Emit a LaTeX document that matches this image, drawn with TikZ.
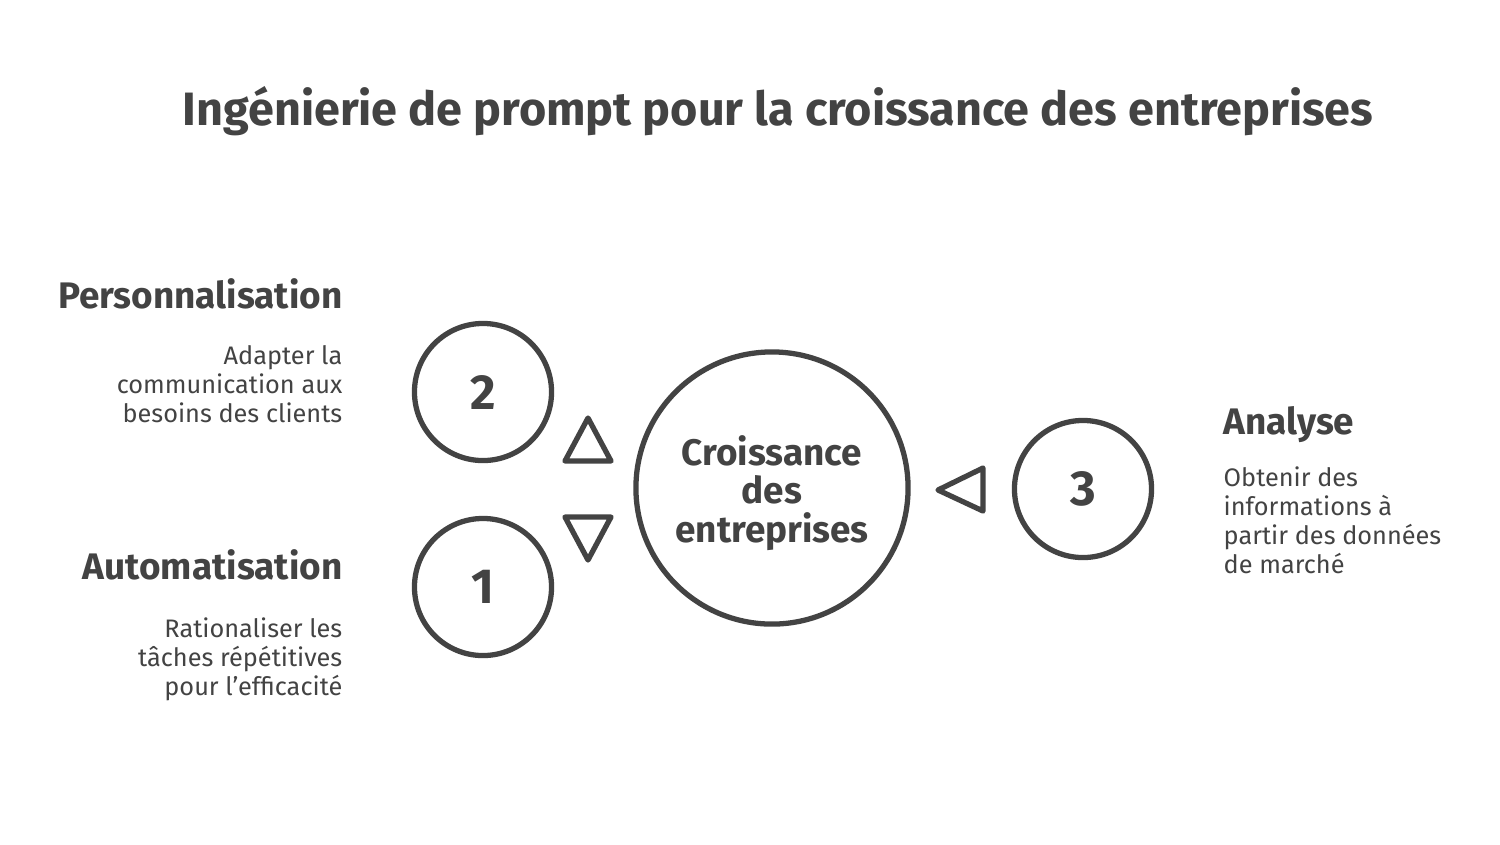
\documentclass[tikz,border=0pt]{standalone}
\usepackage{fontspec}
\setmainfont{Fira Sans}
\definecolor{ink}{HTML}{434343}
\tikzset{
  ring/.style={circle,draw=ink,line width=1.5pt,inner sep=0pt},
  arrowhead/.style={draw=ink,line width=1.5pt,line join=round},
  headline/.style={text=ink,font=\fontsize{10.5}{12}\selectfont\bfseries,inner sep=0pt},
  blurb/.style={text=ink,font=\fontsize{7.2}{8.25}\selectfont,inner sep=0pt}
}
\begin{document}
\begin{tikzpicture}[x=0.01cm,y=-0.01cm]
      \useasboundingbox[fill=white] (0,0) rectangle (1500,844);
      \node[text=ink,font=\fontsize{13.3}{15}\selectfont\bfseries] (title) at (778,111)
        {Ingénierie de prompt pour la croissance des entreprises};
      \draw
        (772,488) node[ring,minimum size=2.72cm] (hub){}
        (483,392) node[ring,minimum size=1.37cm,text=ink,font=\fontsize{14}{15}\selectfont\bfseries] (2){2}
        (483,587) node[ring,minimum size=1.37cm,text=ink,font=\fontsize{14}{15}\selectfont\bfseries] (1){1}
        (1083,489) node[ring,minimum size=1.37cm,text=ink,font=\fontsize{14}{15}\selectfont\bfseries] (3){3};
      \node[text=ink,align=center,font=\fontsize{10.5}{11}\selectfont\bfseries] (hubtext) at (772,493)
        {Croissance\\des\\entreprises};
      % markers pointing at the hub
      \begin{scope}[arrowhead]
        \draw (588,418) -- (611,461) -- (565,461) -- cycle;
        \draw (565,517) -- (611,517) -- (588,560) -- cycle;
        \draw (938,490) -- (983,468) -- (983,511) -- cycle;
      \end{scope}
      \node[headline,anchor=base east] (h2) at (343,308) {Personnalisation};
      \node[blurb,anchor=north east,align=right] (d2) at (343,345)
        {Adapter la\\communication aux\\besoins des clients};
      \node[headline,anchor=base east] (h1) at (343,579) {Automatisation};
      \node[blurb,anchor=north east,align=right] (d1) at (343,617)
        {Rationaliser les\\tâches répétitives\\pour l'efficacité};
      \node[headline,anchor=base west] (h3) at (1223,434) {Analyse};
      \node[blurb,anchor=north west,align=left] (d3) at (1223,466)
        {Obtenir des\\informations à\\partir des données\\de marché};
    \end{tikzpicture}
\end{document}
